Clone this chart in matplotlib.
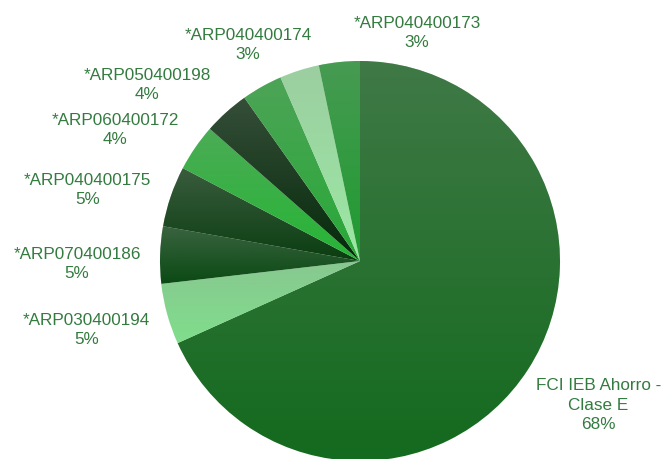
import numpy as np
import matplotlib
matplotlib.use("Agg")
import matplotlib.pyplot as plt

# data (clockwise from 12 o'clock)
names = ["FCI IEB Ahorro -\nClase E", "*ARP030400194", "*ARP070400186", "*ARP040400175",
         "*ARP060400172", "*ARP050400198", "*ARP040400174", "", "*ARP040400173"]
values = [68.2, 4.9, 4.6, 4.9, 3.8, 3.7, 3.3, 3.2, 3.3]
colors = ["#146a1e", "#80de8c", "#0b4a14", "#0b3e11", "#26b535", "#052a0a",
          "#28a937", "#9ce8a4", "#1f9b30"]

# label placement: angle (deg, clockwise from top) and radius
lab_ang = [121, -104, -90.4, -75.2, -61.7, -50.3, -27.3, 0, 14]
lab_rad = [1.39, 1.41, 1.415, 1.41, 1.39, 1.385, 1.22, 0, 1.18]

plt.rcParams['font.family'] = ['Liberation Sans', 'DejaVu Sans']
txt_color = "#337b3f"

fig = plt.figure(figsize=(6.66, 4.6), dpi=100)
ax = fig.add_axes([0, 0, 1, 1])

wedges, _ = ax.pie(values, colors=colors, startangle=90, counterclock=False,
                   radius=1.0, wedgeprops=dict(linewidth=0))

# each slice gets its own top-to-bottom shading (lighter at the top)
grad = np.zeros((128, 1, 4))
grad[..., :3] = 0.6
grad[:, 0, 3] = np.linspace(0.33, 0.0, 128)
for w in wedges:
    bb = w.get_path().get_extents()
    im = ax.imshow(grad, extent=(bb.x0, bb.x1, bb.y0, bb.y1), aspect='auto', zorder=3)
    im.set_clip_path(w)

total = sum(values)
for name, v, a, r in zip(names, values, lab_ang, lab_rad):
    if not name:
        continue
    th = np.deg2rad(90 - a)
    ax.text(r * np.cos(th), r * np.sin(th), f"{name}\n{round(v / total * 100)}%",
            ha='center', va='center', color=txt_color, fontsize=12.3,
            linespacing=1.35, zorder=5)

ax.set_xlim(-1.8, 1.53)
ax.set_ylim(-0.99, 1.31)
ax.axis('off')

plt.savefig("out.png", dpi=100)
